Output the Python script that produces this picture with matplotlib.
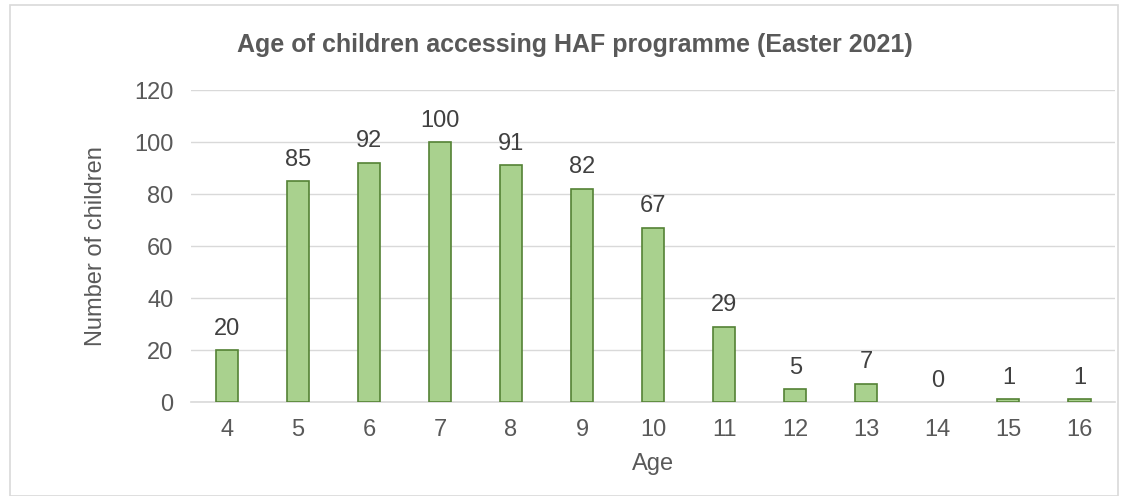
import matplotlib.pyplot as plt
from matplotlib.patches import Rectangle

plt.rcParams['font.family'] = ['Liberation Sans', 'DejaVu Sans']

ages = ['4', '5', '6', '7', '8', '9', '10', '11', '12', '13', '14', '15', '16']
children = [20, 85, 92, 100, 91, 82, 67, 29, 5, 7, 0, 1, 1]

fig = plt.figure(figsize=(11.32, 4.96), dpi=100)
ax = fig.add_axes([0.169, 0.1895, 0.816, 0.629])

# light frame round the whole chart
fig.patches.append(Rectangle((10 / 1132, 0), 1108 / 1132, 491 / 496,
                             transform=fig.transFigure, fill=False,
                             edgecolor='#d9d9d9', linewidth=1.2))

x = range(len(ages))
bars = ax.bar(x, children, width=0.31, color='#a9d18e', edgecolor='#548235',
              linewidth=1.2, zorder=3)
for b, v in zip(bars, children):
    if v == 0:
        b.set_linewidth(0)

for xi, v in zip(x, children):
    ax.text(xi, v + 4, str(v), ha='center', va='bottom', fontsize=17,
            color='#404040')

ax.set_xlim(-0.5, len(ages) - 0.5)
ax.set_ylim(0, 120)
ax.set_yticks(range(0, 121, 20))
ax.set_xticks(list(x))
ax.set_xticklabels(ages)
ax.grid(axis='y', color='#d9d9d9', linewidth=1, zorder=0)
for s in ['top', 'right', 'left']:
    ax.spines[s].set_visible(False)
ax.spines['bottom'].set_color('#d9d9d9')
ax.spines['bottom'].set_linewidth(1.2)
ax.tick_params(length=0, labelsize=17, colors='#595959')
ax.tick_params(axis='y', pad=13)
ax.tick_params(axis='x', pad=12)

ax.set_xlabel('Age', fontsize=17, color='#595959', labelpad=9)
ax.set_ylabel('Number of children', fontsize=17, color='#595959', labelpad=19)
fig.text(575 / 1132, 1 - 45 / 496, 'Age of children accessing HAF programme (Easter 2021)',
         ha='center', va='center', fontsize=18, fontweight='bold', color='#595959')

fig.savefig('out.png', dpi=100)
